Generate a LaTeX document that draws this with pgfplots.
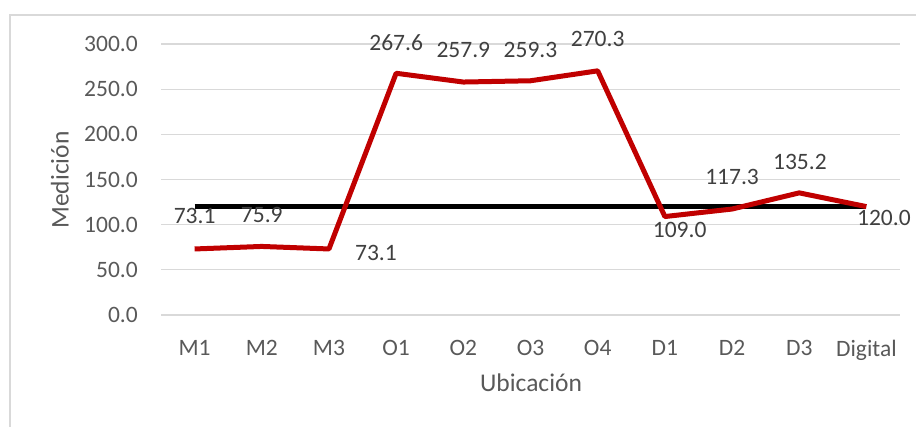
\documentclass[border=0pt]{standalone}
\usepackage{pgfplots}
\pgfplotsset{compat=1.18}
\usepackage{fontspec}
\setmainfont{Carlito}
\definecolor{txt}{HTML}{595959}
\definecolor{lbl}{HTML}{404040}
\definecolor{grd}{HTML}{D9D9D9}
\definecolor{frm}{HTML}{D9D9D9}
\definecolor{redl}{HTML}{C00000}
\begin{document}
\fontsize{23.5}{27}\selectfont
\begin{tikzpicture}[x=1pt,y=1pt]
\useasboundingbox (0,0) rectangle (916,426);
\draw[color=frm, line width=1.5pt] (10,-20) rectangle (940,411);
\begin{axis}[
  at={(161pt,111pt)}, anchor=south west,
  scale only axis, width=739pt, height=271pt,
  xmin=-0.5, xmax=10.5, ymin=0, ymax=300,
  ytick={0,50,...,300},
  xtick={0,...,10},
  xticklabels={M1,M2,M3,O1,O2,O3,O4,D1,D2,D3,Digital},
  axis line style={draw=none},
  tick style={draw=none},
  ymajorgrids, grid style={color=grd, line width=1.2pt},
  /pgf/number format/.cd, fixed, fixed zerofill, precision=1, assume math mode=true,
  /pgfplots/.cd,
  tick label style={font=\fontsize{23.5}{27}\selectfont, text=txt},
  yticklabel style={anchor=east, inner sep=0pt, xshift=-23pt},
  xticklabel style={anchor=north, inner sep=0pt, yshift=-25pt},
  xlabel={Ubicación}, ylabel={Medición},
  label style={font=\fontsize{25.5}{29}\selectfont, text=txt},
  xlabel style={at={(axis description cs:0.5007,-0.251)}, anchor=center},
  ylabel style={at={(axis description cs:-0.1367,0.498)}, anchor=center, rotate=0},
  clip=false,
]
\addplot[black, line width=5pt] coordinates {(0,120) (10,120)};
\addplot[redl, line width=5pt, line join=round] coordinates {
(0,73.1) (1,75.9) (2,73.1) (3,267.6) (4,257.9) (5,259.3) (6,270.3) (7,109.0) (8,117.3) (9,135.2) (10,120.0)};
\begin{scope}[every node/.style={text=lbl, font=\fontsize{23.5}{27}\selectfont, inner sep=0pt}]
\node at (axis cs:0,109.6) {73.1};
\node at (axis cs:1,110.7) {75.9};
\node at (axis cs:2.70,68.6) {73.1};
\node at (axis cs:3,301) {267.6};
\node at (axis cs:4,293) {257.9};
\node at (axis cs:5,293) {259.3};
\node at (axis cs:6,305.5) {270.3};
\node at (axis cs:7.22,94) {109.0};
\node at (axis cs:8,152.8) {117.3};
\node at (axis cs:9.01,169.4) {135.2};
\node at (axis cs:10.26,107.4) {120.0};
\end{scope}
\end{axis}
\end{tikzpicture}
\end{document}
